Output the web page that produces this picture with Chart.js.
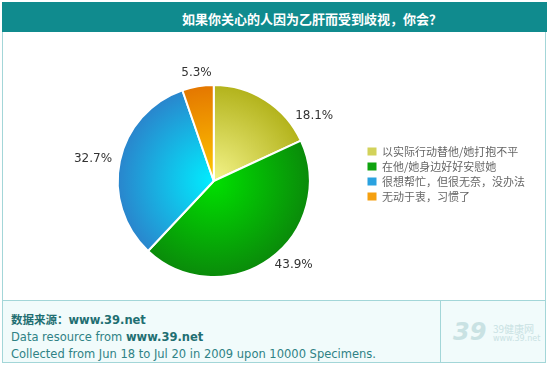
<!DOCTYPE html>
<html lang="zh">
<head>
<meta charset="UTF-8">
<title>如果你关心的人因为乙肝而受到歧视，你会？</title>
<script src="https://cdn.jsdelivr.net/npm/chart.js@4.4.0/dist/chart.umd.min.js"></script>
<style>
    body { margin: 0; width: 550px; height: 366px; background: #fff; position: relative; overflow: hidden; font-family: 'DejaVu Sans', Verdana, sans-serif; }
    .header { position: absolute; left: 2px; top: 2px; width: 545px; height: 30px; background: #108b8e; }
    .header span { position: absolute; left: 180px; top: 7px; color: #fff; font-family: 'Noto Sans CJK SC', sans-serif; font-weight: bold; font-size: 13px; white-space: nowrap; }
    .body { position: absolute; left: 2px; top: 32px; width: 542px; height: 268px; border-left: 1px solid #a3d6d8; border-right: 1px solid #a3d6d8; }
    .footer { position: absolute; left: 2px; top: 300px; width: 542px; height: 61px; background: #f1fbfb; border: 1px solid #a3d6d8; color: #2f8285; font-size: 11.5px; }
    .footer .divider { position: absolute; left: 437px; top: 0; width: 1px; height: 61px; background: #a3d6d8; }
    .line { position: absolute; left: 8px; white-space: nowrap; }
    .logo { position: absolute; left: 450px; top: 24px; color: #c9e2e3; white-space: nowrap; }
    #chartWrap { position: absolute; left: 3px; top: 33px; width: 542px; height: 266px; }
</style>
</head>
<body>
<div class="header"><span>如果你关心的人因为乙肝而受到歧视，你会？</span></div>
<div class="body"></div>
<div id="chartWrap"><canvas id="pie" width="542" height="266"></canvas></div>
<div class="footer">
    <div class="line" style="top:10px;font-weight:bold;font-size:11.5px;color:#1f6f72;"><span style="font-family:'Noto Sans CJK SC';">数据来源：</span>www.39.net</div>
    <div class="line" style="top:29px;">Data resource from <b style="color:#1f6f72;">www.39.net</b></div>
    <div class="line" style="top:46px;">Collected from Jun 18 to Jul 20 in 2009 upon 10000 Specimens.</div>
    <div class="divider"></div>
    <div class="logo">
        <span style="font:italic bold 24px 'DejaVu Sans';position:absolute;left:0;top:-7px;">39</span>
        <span style="font:10px 'Noto Sans CJK SC';position:absolute;left:40px;top:-4px;">39健康网</span>
        <span style="font:8px 'DejaVu Sans';position:absolute;left:40px;top:9px;">www.39.net</span>
    </div>
</div>

<script>
    // 数据
    const categories = ['以实际行动替他/她打抱不平', '在他/她身边好好安慰她', '很想帮忙，但很无奈，没办法', '无动于衷，习惯了'];
    const values = [18.1, 43.9, 32.7, 5.3];
    const valueLabels = ['18.1%', '43.9%', '32.7%', '5.3%'];

    // 颜色：中心浅，边缘深
    const innerColors = ['#f4f48a', '#00e000', '#00eeff', '#ffc800'];
    const outerColors = ['#b2b21a', '#0a8a0a', '#2a84cc', '#e47600'];
    const legendColors = ['#d2d25a', '#0fa30f', '#2aa2e0', '#f5a010'];

    function sliceFill(context) {
        const chart = context.chart;
        const i = context.dataIndex;
        const a = chart.chartArea;
        if (!a) return outerColors[i];
        const cx = (a.left + a.right) / 2;
        const cy = (a.top + a.bottom) / 2;
        const r = Math.min(a.right - a.left, a.bottom - a.top) / 2;
        const g = chart.ctx.createRadialGradient(cx, cy, 0, cx, cy, r);
        g.addColorStop(0, innerColors[i]);
        g.addColorStop(1, outerColors[i]);
        return g;
    }

    // 外部百分比标签
    const outsideLabels = {
        id: 'outsideLabels',
        afterDatasetsDraw(chart, args, opts) {
            const ctx = chart.ctx;
            const arcs = chart.getDatasetMeta(0).data;
            ctx.save();
            ctx.font = opts.font;
            ctx.fillStyle = opts.color;
            ctx.textBaseline = 'middle';
            arcs.forEach((arc, i) => {
                const mid = (arc.startAngle + arc.endAngle) / 2 + (opts.nudge[i] || 0);
                const r = arc.outerRadius + opts.offset;
                const x = arc.x + Math.cos(mid) * r;
                const y = arc.y + Math.sin(mid) * r;
                const c = Math.cos(mid);
                ctx.textAlign = c > 0.3 ? 'left' : (c < -0.3 ? 'right' : 'center');
                ctx.fillText(valueLabels[i], x, y - (c > -0.3 && c < 0.3 ? 6 : 0));
            });
            ctx.restore();
        }
    };

    new Chart(document.getElementById('pie'), {
        type: 'pie',
        data: {
            labels: categories,
            datasets: [{
                data: values,
                backgroundColor: sliceFill,
                borderColor: '#ffffff',
                borderWidth: 2,
                hoverOffset: 0
            }]
        },
        options: {
            responsive: false,
            animation: false,
            layout: { padding: { left: 61, right: 10, top: 51, bottom: 21 } },
            plugins: {
                tooltip: { enabled: false },
                legend: {
                    position: 'right',
                    align: 'start',
                    maxWidth: 173,
                    title: { display: true, text: '', font: { size: 10 }, padding: { top: 46, bottom: 0 } },
                    labels: {
                        boxWidth: 9,
                        boxHeight: 8,
                        padding: 4,
                        color: '#222',
                        font: { family: "'Noto Sans CJK SC', sans-serif", size: 11 },
                        generateLabels: chart => categories.map((c, i) => ({
                            text: c,
                            fillStyle: legendColors[i],
                            strokeStyle: legendColors[i],
                            lineWidth: 0,
                            index: i
                        }))
                    }
                },
                outsideLabels: {
                    font: "12px 'DejaVu Sans', Verdana, sans-serif",
                    color: '#333',
                    offset: 8,
                    nudge: [0.33, 0, 0, 0]
                }
            }
        },
        plugins: [outsideLabels]
    });
</script>
</body>
</html>
